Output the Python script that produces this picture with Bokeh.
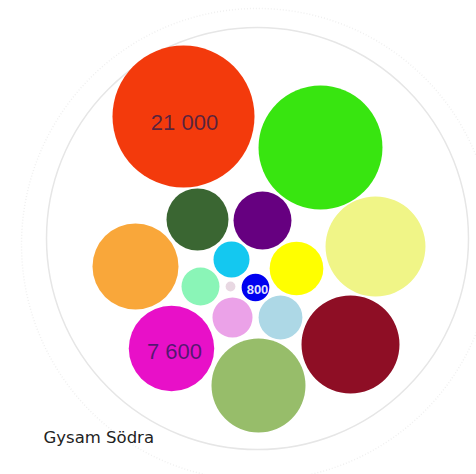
from bokeh.plotting import figure
from bokeh.models import Range1d, ColumnDataSource
from bokeh.core.properties import value
from bokeh.embed import file_html
from bokeh.resources import INLINE
import math

# ---- data ----
names = ["a", "b", "c", "d", "e", "f", "g", "h", "i", "j", "k", "l", "m", "n", "o", "p"]
values = [21000, 16000, 4000, 3500, 10400, 7700, 1350, 3000, 1500, 100, 800, 1670, 2000, 7600, 9200, 10000]
labels = ["21 000", "", "", "", "", "", "", "", "", "", "800", "", "", "7 600", "", ""]
colors = ["#F33A0C", "#38E510", "#3A6632", "#660080", "#F0F587", "#F9A73A", "#14C8F0", "#FFFF00",
          "#8AF5B7", "#E8D8E2", "#0000F0", "#EBA2E8", "#ADD8E6", "#E810C8", "#97BD6A", "#8E0E25"]
title = "Gysam Södra"

# layout (packing positions, in plot units)
pos_x = [175, 312, 189, 254, 367, 127, 223, 288, 192, 222, 247, 224, 272, 163, 250, 342]
pos_y = [350, 319, 247, 246, 220, 200, 207, 198, 180, 180, 179, 149, 149, 118, 81, 122]
scale_k = 21000 / 71.0 ** 2
radii = [math.sqrt(v / scale_k) for v in values]

W, H = 476, 474
p = figure(width=W, height=H, x_range=Range1d(-8, W - 8), y_range=Range1d(-8, H - 8),
           output_backend="svg", toolbar_location=None, min_border=0,
           background_fill_color="white", border_fill_color="white")
p.axis.visible = False
p.grid.visible = False
p.outline_line_color = None

# faint sketchy outer ring
p.circle(x=[249], y=[222], radius=[236], fill_color=None, line_color="#f0f0f0",
         line_width=1.5, line_dash="1 2")
# outer container circle
p.circle(x=[249], y=[228], radius=[211], fill_color=None, line_color="#e6e6e6", line_width=1.5)

src = ColumnDataSource(dict(x=pos_x, y=pos_y, r=radii, c=colors, lab=labels, name=names))
p.circle(x="x", y="y", radius="r", fill_color="c", line_color=None, source=src)

big = ColumnDataSource(dict(x=[pos_x[0] + 1, pos_x[13] + 3], y=[pos_y[0] - 6, pos_y[13] - 3],
                            t=[labels[0], labels[13]]))
p.text(x="x", y="y", text="t", source=big, text_font=value("Liberation Sans"),
       text_font_size="22px", text_color="#1a1a50", text_alpha=0.72,
       text_align="center", text_baseline="middle")
small = ColumnDataSource(dict(x=[pos_x[10] + 2], y=[pos_y[10] - 2], t=[labels[10]]))
p.text(x="x", y="y", text="t", source=small, text_font=value("Liberation Sans"),
       text_font_size="13px", text_font_style="bold", text_color="white", text_alpha=0.9,
       text_align="center", text_baseline="middle")

p.text(x=[35], y=[29], text=[title], text_font=value("DejaVu Sans"), text_font_size="16.5px",
       text_color="#222222", text_align="left", text_baseline="middle")

open("out.html", "w").write(file_html(p, INLINE))
